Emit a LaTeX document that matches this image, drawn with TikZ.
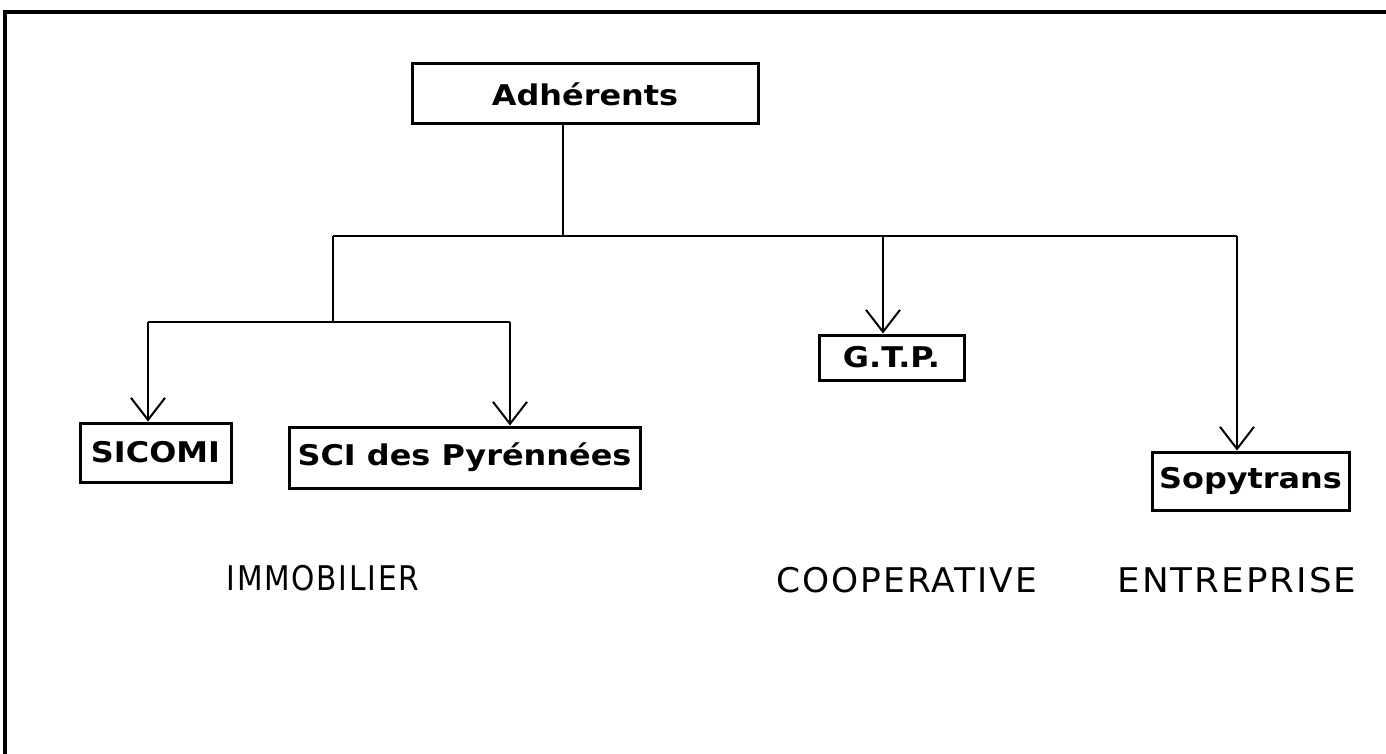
\documentclass[tikz,border=0pt]{standalone}
\usepackage{fontspec}
\newfontfamily\boxfont[FakeStretch=1.12]{DejaVu Sans}
\newfontfamily\labfont[FakeStretch=1.05,LetterSpace=6]{DejaVu Sans}
\usetikzlibrary{arrows.meta}
\tikzset{
  orgbox/.style={draw, line width=3pt, inner sep=0pt, font=\boxfont\bfseries\fontsize{28.5}{30}\selectfont},
  link/.style={line width=2pt},
  arr/.style={link, -{Straight Barb[length=22pt,width=34pt,line width=2pt]}},
  cat/.style={font=\labfont\fontsize{34}{36}\selectfont, inner sep=0pt},
  frame/.style={line width=4pt}
}
\begin{document}
\begin{tikzpicture}[x=1pt,y=-1pt]
\useasboundingbox (0,0) rectangle (1386,754);
\fill[white] (0,0) rectangle (1386,754);
% frame (top and left edges only)
\draw[frame] (5,754) -- (5,12) -- (1386,12);
% boxes
\node[orgbox, minimum width=346pt, minimum height=60pt] (adh) at (585,94) {Adhérents};
\node[orgbox, minimum width=151pt, minimum height=59pt] (sicomi) at (155.5,452.5) {SICOMI};
\node[orgbox, minimum width=351pt, minimum height=61pt] (sci) at (464.5,457.5) {SCI des Pyrénnées};
\node[orgbox, minimum width=145pt, minimum height=45pt] (gtp) at (891.5,357.5) {G.T.P.};
\node[orgbox, minimum width=197pt, minimum height=58pt] (sopy) at (1250.5,481) {Sopytrans};
% junctions
\coordinate (j0) at (563,236);
\coordinate (jl) at (333,236);
\coordinate (jg) at (883,236);
\coordinate (jr) at (1237,236);
\coordinate (k0) at (333,322);
\coordinate (kl) at (148,322);
\coordinate (kr) at (510,322);
% connectors
\draw[link] (adh.south -| j0) -- (j0);
\draw[link] (jl) -- (jr);
\draw[link] (jl) -- (k0);
\draw[link] (kl) -- (kr);
\draw[arr] (kl) -- (sicomi.north -| kl);
\draw[arr] (kr) -- (sci.north -| kr);
\draw[arr] (jg) -- (gtp.north -| jg);
\draw[arr] (jr) -- (sopy.north -| jr);
% category labels
\node[cat] (immo) at (323,578) {\scalebox{0.83}[1]{IMMOBILIER}};
\node[cat] (coop) at (907,580) {\scalebox{0.965}[1]{COOPERATIVE}};
\node[cat] (entr) at (1237,580) {ENTREPRISE};
\end{tikzpicture}
\end{document}
